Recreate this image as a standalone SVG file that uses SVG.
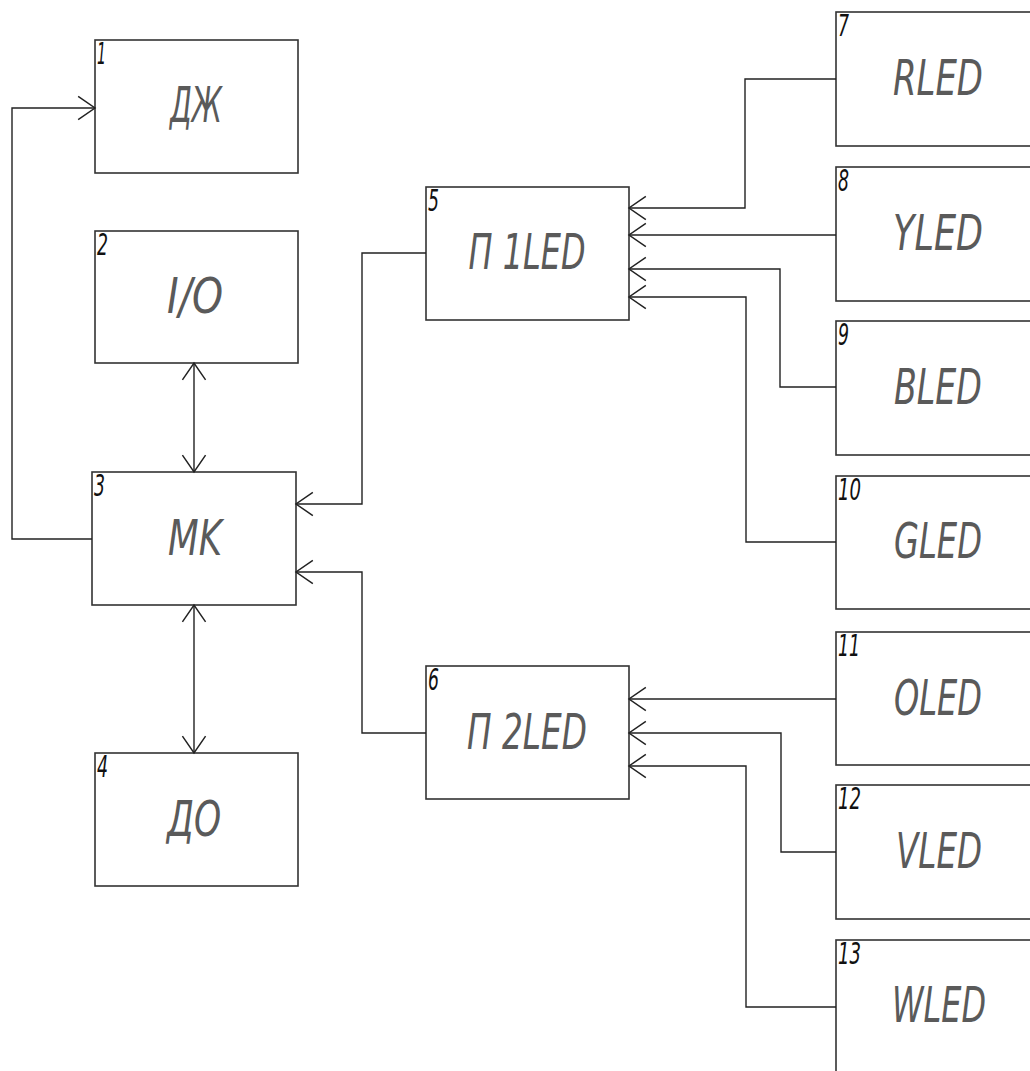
<svg xmlns="http://www.w3.org/2000/svg" width="1030" height="1071" viewBox="0 0 1030 1071">
<style>
.box{fill:#fff;stroke:#333;stroke-width:1.6}
.lbl{font-family:"DejaVu Sans Condensed","DejaVu Sans",sans-serif;font-style:italic;font-size:50px;fill:#5a5a5a;text-anchor:middle}
.num{font-family:"DejaVu Sans Condensed","DejaVu Sans",sans-serif;font-style:italic;font-size:30px;fill:#111}
.wire{fill:none;stroke:#222;stroke-width:1.4}
</style>
<defs>
<marker id="ah" markerUnits="userSpaceOnUse" markerWidth="20" markerHeight="30" viewBox="-17 -13 19 26" refX="0" refY="0" orient="auto-start-reverse">
<path d="M-16,-11 L0,0 L-16,11" fill="none" stroke="#222" stroke-width="1.4"/>
</marker>
</defs>
<g id="n1"><rect class="box" x="95" y="40" width="203" height="133"/><text class="num" x="97" y="64" textLength="9" lengthAdjust="spacingAndGlyphs">1</text><text class="lbl" x="196" y="122" textLength="52" lengthAdjust="spacingAndGlyphs">ДЖ</text></g>
<g id="n2"><rect class="box" x="95" y="231" width="203" height="132"/><text class="num" x="97" y="255" textLength="11" lengthAdjust="spacingAndGlyphs">2</text><text class="lbl" x="195" y="313" textLength="56" lengthAdjust="spacingAndGlyphs">I/O</text></g>
<g id="n3"><rect class="box" x="92" y="472" width="204" height="133"/><text class="num" x="94" y="496" textLength="11" lengthAdjust="spacingAndGlyphs">3</text><text class="lbl" x="195" y="555" textLength="54" lengthAdjust="spacingAndGlyphs">MK</text></g>
<g id="n4"><rect class="box" x="95" y="753" width="203" height="133"/><text class="num" x="97" y="777" textLength="11" lengthAdjust="spacingAndGlyphs">4</text><text class="lbl" x="194" y="836" textLength="54" lengthAdjust="spacingAndGlyphs">ДО</text></g>
<g id="n5"><rect class="box" x="426" y="187" width="203" height="133"/><text class="num" x="428" y="211" textLength="11" lengthAdjust="spacingAndGlyphs">5</text><text class="lbl" x="527" y="269" textLength="117" lengthAdjust="spacingAndGlyphs">П 1LED</text></g>
<g id="n6"><rect class="box" x="426" y="666" width="203" height="133"/><text class="num" x="428" y="690" textLength="11" lengthAdjust="spacingAndGlyphs">6</text><text class="lbl" x="527" y="749" textLength="120" lengthAdjust="spacingAndGlyphs">П 2LED</text></g>
<g id="n7"><rect class="box" x="836" y="12" width="204" height="134"/><text class="num" x="838" y="36" textLength="11" lengthAdjust="spacingAndGlyphs">7</text><text class="lbl" x="938" y="95" textLength="90" lengthAdjust="spacingAndGlyphs">RLED</text></g>
<g id="n8"><rect class="box" x="836" y="167" width="204" height="134"/><text class="num" x="838" y="191" textLength="11" lengthAdjust="spacingAndGlyphs">8</text><text class="lbl" x="938" y="250" textLength="90" lengthAdjust="spacingAndGlyphs">YLED</text></g>
<g id="n9"><rect class="box" x="836" y="321" width="204" height="134"/><text class="num" x="838" y="345" textLength="11" lengthAdjust="spacingAndGlyphs">9</text><text class="lbl" x="938" y="404" textLength="88" lengthAdjust="spacingAndGlyphs">BLED</text></g>
<g id="n10"><rect class="box" x="836" y="476" width="204" height="133"/><text class="num" x="838" y="500" textLength="23" lengthAdjust="spacingAndGlyphs">10</text><text class="lbl" x="938" y="558" textLength="88" lengthAdjust="spacingAndGlyphs">GLED</text></g>
<g id="n11"><rect class="box" x="836" y="632" width="204" height="133"/><text class="num" x="838" y="656" textLength="22" lengthAdjust="spacingAndGlyphs">11</text><text class="lbl" x="938" y="715" textLength="88" lengthAdjust="spacingAndGlyphs">OLED</text></g>
<g id="n12"><rect class="box" x="836" y="785" width="204" height="134"/><text class="num" x="838" y="809" textLength="23" lengthAdjust="spacingAndGlyphs">12</text><text class="lbl" x="939" y="868" textLength="86" lengthAdjust="spacingAndGlyphs">VLED</text></g>
<g id="n13"><rect class="box" x="836" y="940" width="204" height="140"/><text class="num" x="838" y="964" textLength="23" lengthAdjust="spacingAndGlyphs">13</text><text class="lbl" x="939" y="1022" textLength="94" lengthAdjust="spacingAndGlyphs">WLED</text></g>
<g id="connectors">
<path class="wire" d="M92,539 H12 V108 H95" marker-end="url(#ah)"/>
<path class="wire" d="M194,363 V472" marker-start="url(#ah)" marker-end="url(#ah)"/>
<path class="wire" d="M194,605 V753" marker-start="url(#ah)" marker-end="url(#ah)"/>
<path class="wire" d="M426,253 H362 V504 H296" marker-end="url(#ah)"/>
<path class="wire" d="M426,733 H362 V572 H296" marker-end="url(#ah)"/>
<path class="wire" d="M836,79 H745 V208 H629" marker-end="url(#ah)"/>
<path class="wire" d="M836,235 H629" marker-end="url(#ah)"/>
<path class="wire" d="M836,387 H780 V269 H629" marker-end="url(#ah)"/>
<path class="wire" d="M836,542 H746 V297 H629" marker-end="url(#ah)"/>
<path class="wire" d="M836,699 H629" marker-end="url(#ah)"/>
<path class="wire" d="M836,852 H781 V733 H629" marker-end="url(#ah)"/>
<path class="wire" d="M836,1007 H746 V766 H629" marker-end="url(#ah)"/>
</g>
</svg>
